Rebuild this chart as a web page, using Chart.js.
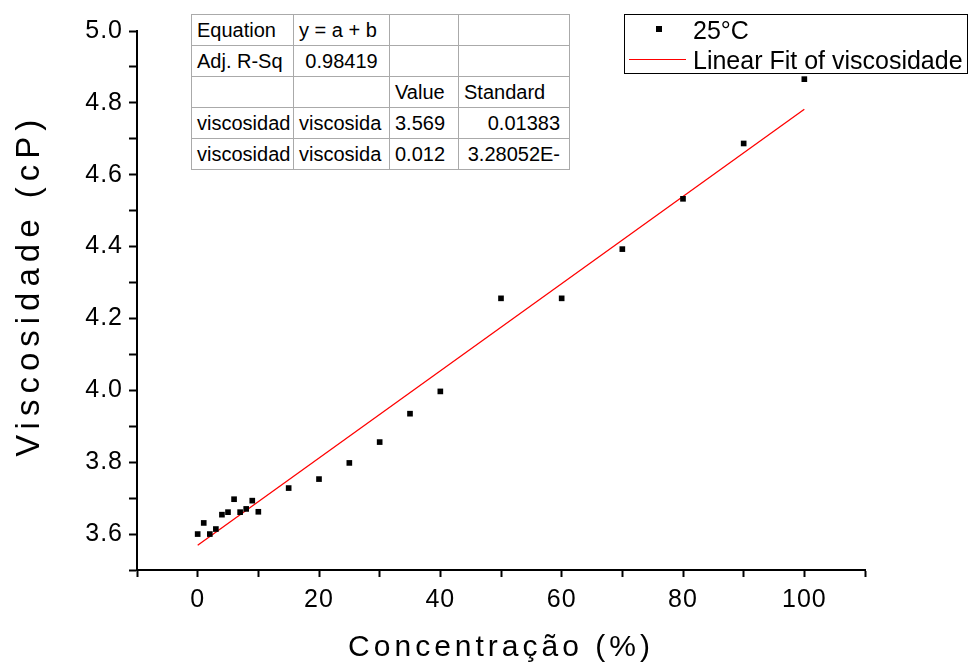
<!DOCTYPE html>
<html>
<head>
<meta charset="utf-8">
<script src="https://cdn.jsdelivr.net/npm/chart.js"></script>
<style>
    body { margin: 0; background: #fff; }
    #wrap { position: relative; width: 970px; height: 664px; font-family: "Liberation Sans", Arial, sans-serif; }
    #fit-table { position: absolute; left: 191px; top: 14px; border-collapse: collapse; table-layout: fixed; border: 1px solid #222; font-size: 20px; color: #000; background: #fff; }
    #fit-table td { height: 30px; padding: 0; border: 1px solid #aaa; white-space: nowrap; overflow: hidden; }
    .l { text-align: left; padding-left: 5px !important; }
    .c { text-align: center; }
    .r { text-align: right; padding-right: 9px !important; }
    #legend { position: absolute; left: 624px; top: 14px; width: 342px; height: 58px; border: 1px solid #000; background: #fff; font-size: 25px; color: #000; }
    #legend .row { position: absolute; left: 0; height: 30px; line-height: 30px; }
    #legend .mark { position: absolute; left: 31px; top: 11px; width: 6px; height: 6px; background: #000; }
    #legend .fitline { position: absolute; left: 4px; top: 14px; width: 57px; height: 0; border-top: 1px solid #ff0000; }
    #legend .txt { position: absolute; left: 68px; top: 0; }
</style>
</head>
<body>
<div id="wrap">
    <canvas id="visc-chart" width="970" height="664"></canvas>

    <table id="fit-table">
        <colgroup><col style="width:102px"><col style="width:96px"><col style="width:69px"><col style="width:111px"></colgroup>
        <tr><td class="l">Equation</td><td class="l">y = a + b</td><td></td><td></td></tr>
        <tr><td class="l">Adj. R-Sq</td><td class="c">0.98419</td><td></td><td></td></tr>
        <tr><td></td><td></td><td class="l">Value</td><td class="l">Standard</td></tr>
        <tr><td class="l">viscosidad</td><td class="l" style="padding-left:2px">viscosida</td><td class="l" style="padding-left:3px">3.569</td><td class="r">0.01383</td></tr>
        <tr><td class="l">viscosidad</td><td class="l" style="padding-left:2px">viscosida</td><td class="l" style="padding-left:3px">0.012</td><td class="r">3.28052E-</td></tr>
    </table>

    <div id="legend">
        <div class="row" style="top:0"><span class="mark"></span><span class="txt">25°C</span></div>
        <div class="row" style="top:30px"><span class="fitline"></span><span class="txt" style="white-space:nowrap">Linear Fit of viscosidade</span></div>
    </div>
</div>
<script>
    // concentration (%) and measured viscosity (cP) at 25 C
    var concentracao = [0, 1, 2, 3, 4, 5, 6, 7, 8, 9, 10, 15, 20, 25, 30, 35, 40, 50, 60, 70, 80, 90, 100];
    var viscosidade = [3.600, 3.631, 3.600, 3.614, 3.654, 3.661, 3.697, 3.661, 3.670, 3.693, 3.662,
        3.728, 3.753, 3.798, 3.856, 3.935, 3.997, 4.256, 4.256, 4.393, 4.533, 4.687, 4.866];

    // linear fit end points (as drawn)
    var fitX = [0, 100];
    var fitY = [3.569, 4.782];

    var xTickLabels = [0, 20, 40, 60, 80, 100];
    var yTickLabels = ['3.6', '3.8', '4.0', '4.2', '4.4', '4.6', '4.8', '5.0'];

    var toPoints = function(xs, ys) {
        return xs.map(function(x, i) { return {x: x, y: ys[i]}; });
    };

    // letter spacing like the original export
    var spacingPlugin = {
        id: 'spacing',
        beforeDraw: function(chart) {
            chart.ctx.letterSpacing = '1px';
        },
        afterLayout: function(chart) {
            ['x', 'y'].forEach(function(id) {
                var s = chart.scales[id];
                if (s._wrapped) return;
                var orig = s.drawTitle;
                s.drawTitle = function() {
                    var c = this.ctx;
                    c.save();
                    c.letterSpacing = id === 'x' ? '4px' : '6px';
                    orig.call(this);
                    c.restore();
                };
                s._wrapped = true;
            });
        }
    };

    var ctx = document.getElementById('visc-chart').getContext('2d');
    Chart.defaults.font.family = '"Liberation Sans", Arial, sans-serif';
    Chart.defaults.color = '#000';

    new Chart(ctx, {
        type: 'scatter',
        data: {
            datasets: [{
                label: '25°C',
                data: toPoints(concentracao, viscosidade),
                pointStyle: 'rect',
                pointRadius: 4,
                pointBorderWidth: 0,
                backgroundColor: '#000',
                borderColor: '#000'
            }, {
                type: 'line',
                label: 'Linear Fit of viscosidade',
                data: toPoints(fitX, fitY),
                borderColor: '#ff0000',
                borderWidth: 1.3,
                pointRadius: 0,
                fill: false
            }]
        },
        options: {
            responsive: false,
            animation: false,
            devicePixelRatio: 1,
            layout: { padding: { top: 31, right: 105, left: 0, bottom: 0 } },
            plugins: { legend: { display: false }, tooltip: { enabled: false } },
            scales: {
                x: {
                    type: 'linear',
                    min: -10,
                    max: 110,
                    afterFit: function(scale) { scale.height = 94; },
                    border: { display: true, color: '#000', width: 2 },
                    grid: { drawOnChartArea: false, drawTicks: true, tickLength: 7, tickWidth: 2, tickColor: '#000' },
                    ticks: {
                        stepSize: 10,
                        maxTicksLimit: 100,
                        autoSkip: false,
                        maxRotation: 0,
                        padding: 8,
                        font: { size: 25 },
                        callback: function(v) {
                            return xTickLabels.indexOf(v) >= 0 ? String(v) : '';
                        }
                    },
                    title: {
                        display: true,
                        text: 'Concentração (%)',
                        font: { size: 30, lineHeight: 1 },
                        padding: { top: 0, bottom: 1 }
                    }
                },
                y: {
                    type: 'linear',
                    min: 3.5,
                    max: 5.0,
                    afterFit: function(scale) { scale.width = 137; },
                    border: { display: true, color: '#000', width: 2 },
                    grid: { drawOnChartArea: false, drawTicks: true, tickLength: 8, tickWidth: 2, tickColor: '#000' },
                    ticks: {
                        stepSize: 0.1,
                        maxTicksLimit: 100,
                        autoSkip: false,
                        padding: 6,
                        font: { size: 25 },
                        callback: function(v) {
                            var s = v.toFixed(1);
                            return yTickLabels.indexOf(s) >= 0 ? s : '';
                        }
                    },
                    title: {
                        display: true,
                        // two leading spaces lift the label a little, as in the original
                        text: '  Viscosidade (cP)',
                        font: { size: 33, lineHeight: 1 },
                        padding: { top: 13, bottom: 0 }
                    }
                }
            }
        },
        plugins: [spacingPlugin]
    });
</script>
</body>
</html>
